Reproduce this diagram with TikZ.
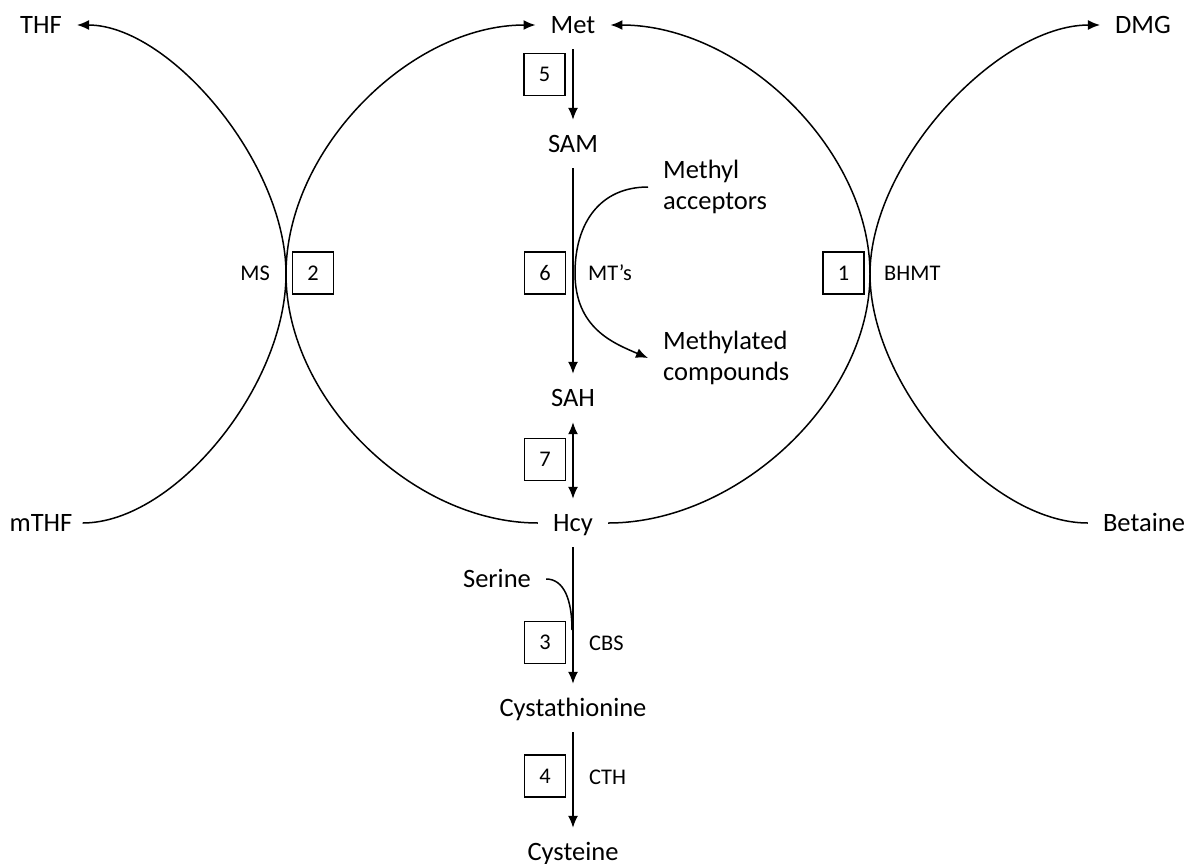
\documentclass[tikz,border=0pt]{standalone}
\usepackage{fontspec}
\setmainfont{Carlito}
\usetikzlibrary{arrows.meta}
\begin{document}
\begin{tikzpicture}[x=1pt,y=1pt,
  big/.style={font=\fontsize{26.5}{31}\selectfont, inner xsep=15pt, inner ysep=0pt, text height=16.7pt, text depth=0pt, minimum height=48pt},
  two/.style={font=\fontsize{26.5}{31}\selectfont, inner xsep=15pt, inner ysep=0pt, align=left, anchor=west},
  small/.style={font=\fontsize{22.4}{26}\selectfont, inner sep=0pt, text height=14pt, text depth=0pt},
  box/.style={draw, line width=1.3pt, font=\fontsize{22.4}{26}\selectfont, minimum width=41pt, minimum height=42pt, inner sep=0pt, text height=14pt, text depth=0pt},
  line/.style={line width=1.5pt},
  arr/.style={line width=1.5pt, -{Latex[length=12pt,width=10pt]}},
  darr/.style={line width=1.5pt, {Latex[length=12pt,width=10pt]}-{Latex[length=12pt,width=10pt]}}]
\useasboundingbox (0,0) rectangle (1186,-863);
% main metabolites
\node[big] (thf) at (41,-25) {THF};
\node[big] (met) at (573,-25) {Met};
\node[big] (dmg) at (1143,-25) {DMG};
\node[big] (sam) at (573,-144) {SAM};
\node[big] (sah) at (573,-398) {SAH};
\node[big] (hcy) at (573,-523) {Hcy};
\node[big] (cyst) at (573,-708) {Cystathionine};
\node[big] (cys) at (573,-852) {Cysteine};
\node[big, inner xsep=10pt] (mthf) at (41,-523) {mTHF};
\node[big] (bet) at (1144,-523) {Betaine};
\node[big] (ser) at (497,-579) {Serine};
\node[two] (ma) at (648,-187) {Methyl\\acceptors};
\node[two] (mc) at (648,-358) {Methylated\\compounds};
% enzyme numbers
\node[box] (b5) at (544.5,-74.5) {5};
\node[box] (b6) at (545,-273) {6};
\node[box] (b7) at (545,-459.5) {7};
\node[box] (b3) at (545,-642.5) {3};
\node[box] (b4) at (545,-776) {4};
\node[box] (b2) at (313,-273) {2};
\node[box] (b1) at (843.5,-273) {1};
% enzyme names
\node[small, anchor=east] (ms) at (270,-273) {MS};
\node[small, anchor=west] (bhmt) at (884,-273) {BHMT};
\node[small, anchor=west] (mts) at (588,-273) {MT’s};
\node[small, anchor=west] (cbs) at (589,-643) {CBS};
\node[small, anchor=west] (cth) at (589,-777) {CTH};
% crossing points
\coordinate (msx) at (286,-274);
\coordinate (bhx) at (870,-274);
\coordinate (mtx) at (575,-273);
\coordinate (serx) at (572,-630);
% vertical chain
\draw[arr] (met) -- (sam);
\draw[arr] (sam) -- (sah);
\draw[darr] (sah) -- (hcy);
\draw[arr] (hcy) -- (cyst);
\draw[arr] (cyst) -- (cys);
% main cycle
\draw[arr] (hcy.west) .. controls +(-126,0) and +(0,-125) .. (msx) .. controls +(0,125) and +(-125,0) .. (met.west);
\draw[arr] (hcy.east) .. controls +(130,0) and +(0,-125) .. (bhx) .. controls +(0,125) and +(130,0) .. (met.east);
% folate and betaine arcs
\draw[arr] (mthf.east) .. controls +(92,0) and +(0,-112) .. (msx) .. controls +(0,112) and +(92,0) .. (thf.east);
\draw[arr] (bet.west) .. controls +(-98,0) and +(0,-112) .. (bhx) .. controls +(0,112) and +(-102,0) .. (dmg.west);
% methyl transfer
\draw[arr] (ma.west) .. controls +(-48,0) and +(0,50) .. (mtx) .. controls +(0,-55) and +(-35,15) .. (mc.west);
% serine
\draw[line] (ser.east) .. controls +(18,0) and +(0,30) .. (serx);
\end{tikzpicture}
\end{document}
